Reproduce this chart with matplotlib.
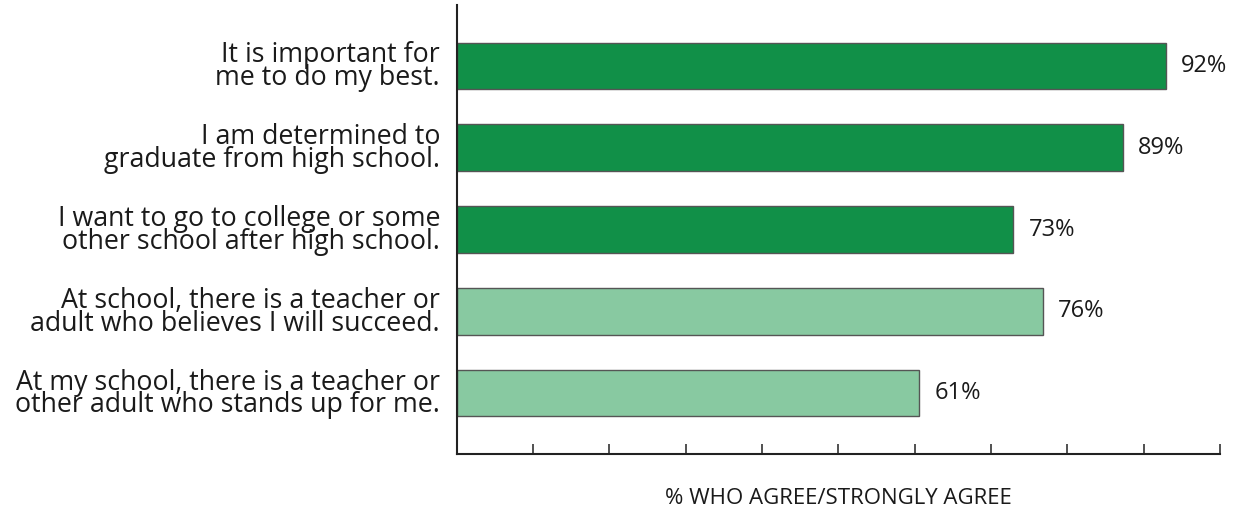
import matplotlib
matplotlib.use("Agg")
import matplotlib.pyplot as plt

# statements, top to bottom
statements = [
    "It is important for\nme to do my best.",
    "I am determined to\ngraduate from high school.",
    "I want to go to college or some\nother school after high school.",
    "At school, there is a teacher or\nadult who believes I will succeed.",
    "At my school, there is a teacher or\nother adult who stands up for me.",
]
# bar lengths as drawn (percent)
pct = [92.9, 87.3, 72.9, 76.8, 60.6]
# printed labels
pct_labels = ["92%", "89%", "73%", "76%", "61%"]
groups = ["dark", "dark", "dark", "light", "light"]

colors = {"dark": "#119048", "light": "#88c9a1"}

plt.rcParams["font.family"] = ["Open Sans", "DejaVu Sans"]

fig = plt.figure(figsize=(12.39, 5.14), dpi=100)
ax = fig.add_axes([0.3686, 0.1161, 0.6161, 0.8748])

y = list(range(len(statements)))
ax.barh(y, pct, height=0.571, color=[colors[g] for g in groups],
        edgecolor="#555555", linewidth=1.0)

for yi, v, lab in zip(y, pct, pct_labels):
    ax.text(v + 2.0, yi, lab, va="center", ha="left", fontsize=17,
            color="#1a1a1a")

ax.set_ylim(4.75, -0.75)
ax.set_xlim(0, 100)
ax.set_xticks(range(0, 101, 10))
ax.set_xticklabels([])
ax.set_yticks(y)
ax.set_yticklabels(statements, fontsize=19.3, linespacing=0.76, color="#1a1a1a")
ax.tick_params(axis="y", length=0, pad=12)
ax.tick_params(axis="x", direction="in", length=7, width=1.2, color="#333333")

for s in ("top", "right"):
    ax.spines[s].set_visible(False)
ax.spines["left"].set_linewidth(1.5)
ax.spines["bottom"].set_linewidth(1.5)
ax.spines["left"].set_color("#222222")
ax.spines["bottom"].set_color("#222222")

fig.text(0.6766, 0.031, "% WHO AGREE/STRONGLY AGREE", ha="center", va="center",
         fontsize=16, color="#1a1a1a")

fig.savefig("out.png", dpi=100)
